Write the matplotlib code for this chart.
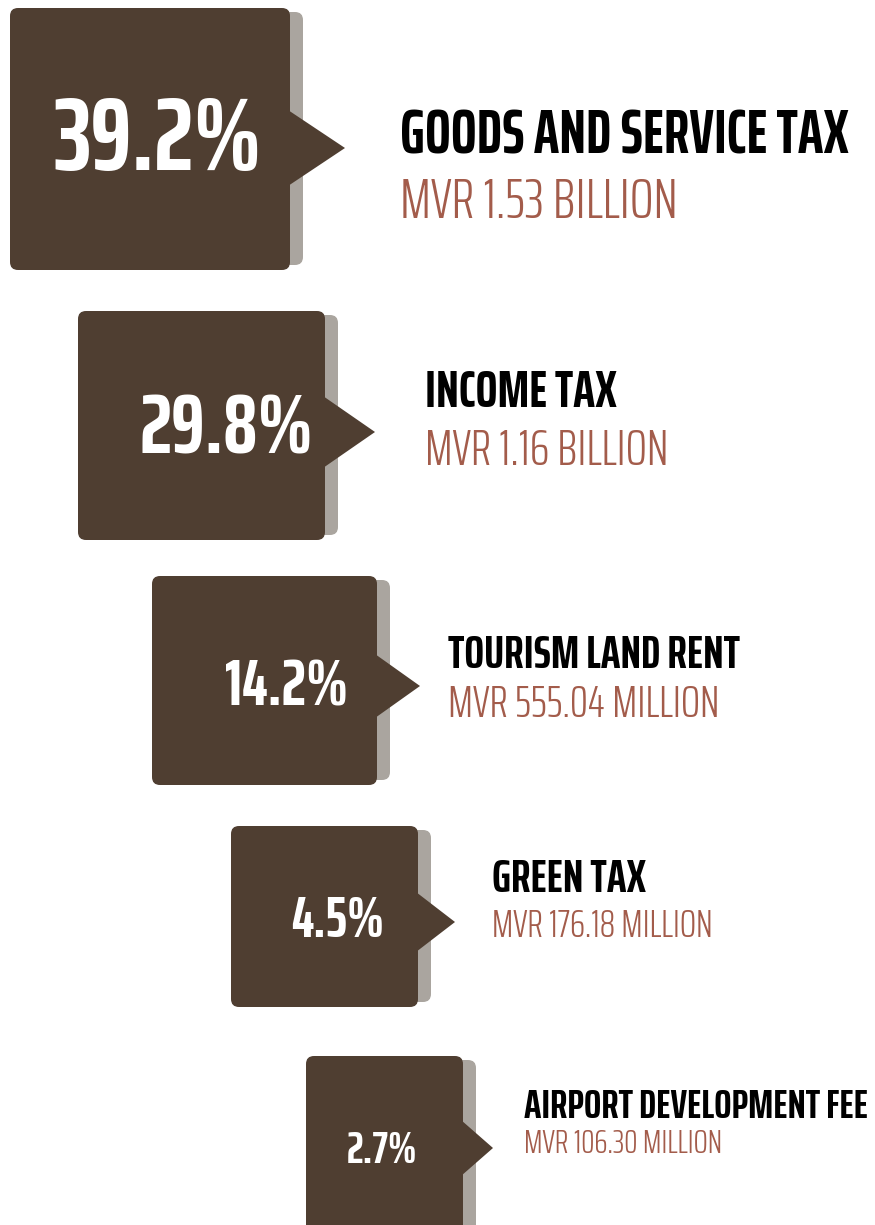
import matplotlib
matplotlib.use('Agg')
import matplotlib.pyplot as plt
from matplotlib.patches import FancyBboxPatch, Polygon

# data
categories = ['GOODS AND SERVICE TAX', 'INCOME TAX', 'TOURISM LAND RENT',
              'GREEN TAX', 'AIRPORT DEVELOPMENT FEE']
shares = [39.2, 29.8, 14.2, 4.5, 2.7]
amounts = ['MVR 1.53 BILLION', 'MVR 1.16 BILLION', 'MVR 555.04 MILLION',
           'MVR 176.18 MILLION', 'MVR 106.30 MILLION']

# layout (pixels): box left, top, right, bottom
boxes = [(10, 8, 290, 270), (78, 311, 325, 540), (152, 576, 377, 785),
         (231, 826, 418, 1007), (306, 1056, 463, 1240)]
arrow_y = [148, 432, 686, 922, 1148]
arrow_half = [38, 36, 32, 30, 28]
arrow_tip = [345, 375, 420, 455, 493]
pct_x = [158, 226, 287, 338, 382]
pct_base = [170, 453, 705, 937, 1163]
pct_w = [207, 173, 123, 93, 70]
lab_x = [400, 425, 448, 492, 524]
title_base = [153, 407, 668, 892, 1118]
title_w = [450, 193, 293, 155, 346]
val_base = [218, 465, 717, 937, 1153]
val_w = [276, 242, 270, 220, 198]

BROWN = '#4f3e31'
SHADOW = '#aaa59f'
RUST = '#a35c4b'
FONT = ['Saira ExtraCondensed', 'DejaVu Sans']

fig = plt.figure(figsize=(8.75, 12.25), dpi=100)
ax = fig.add_axes([0, 0, 1, 1])
ax.set_xlim(0, 875)
ax.set_ylim(1225, 0)
ax.axis('off')
renderer = fig.canvas.get_renderer()


def fit_text(x, y, s, width, ha, **kw):
    # scale the font so the text spans the same width as in the original
    t = ax.text(x, y, s, ha=ha, va='baseline', fontsize=20, family=FONT, **kw)
    w = t.get_window_extent(renderer).width
    t.set_fontsize(20 * width / w)
    return t


for i in range(len(categories)):
    l, t, r, b = boxes[i]
    sh = FancyBboxPatch((l + 13, t + 4), r - l, b - t - 9,
                        boxstyle='round,pad=0,rounding_size=8',
                        fc=SHADOW, ec='none', zorder=1)
    ax.add_patch(sh)
    ax.add_patch(Polygon([(r - 2, arrow_y[i] - arrow_half[i]),
                          (arrow_tip[i], arrow_y[i]),
                          (r - 2, arrow_y[i] + arrow_half[i])],
                         closed=True, fc=BROWN, ec='none', zorder=2))
    bx = FancyBboxPatch((l, t), r - l, b - t,
                        boxstyle='round,pad=0,rounding_size=8',
                        fc=BROWN, ec='none', zorder=3)
    ax.add_patch(bx)
    fit_text(pct_x[i], pct_base[i], '{}%'.format(shares[i]), pct_w[i],
             'center', color='white', fontweight='bold', zorder=4)
    fit_text(lab_x[i], title_base[i], categories[i], title_w[i], 'left',
             color='black', fontweight='bold')
    fit_text(lab_x[i], val_base[i], amounts[i], val_w[i], 'left',
             color=RUST, fontweight=300)

fig.savefig('out.png', dpi=100)
